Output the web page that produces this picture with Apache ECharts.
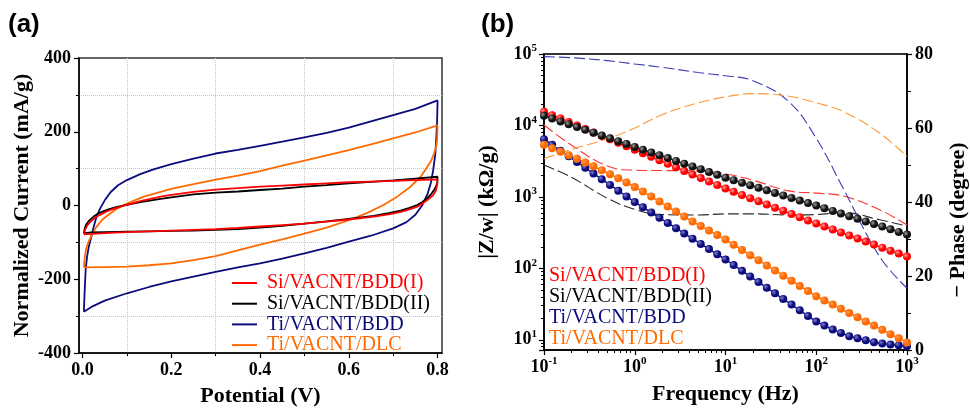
<!DOCTYPE html>
<html>
<head>
<meta charset="utf-8">
<script src="https://cdn.jsdelivr.net/npm/echarts@6/dist/echarts.min.js"></script>
<style>
  html, body { margin: 0; padding: 0; background: #fff; }
  #main { width: 970px; height: 410px; }
</style>
</head>
<body>
<div id="main"></div>
<script>
// (a) cyclic voltammograms: [potential (V), current (mA/g)], forward sweep then reverse sweep
var cvSiBddI = [
  [0.003,-78],[0.006,-65],[0.011,-53],[0.018,-44],[0.025,-36],[0.035,-28],[0.048,-20],[0.06,-13],[0.078,-6],[0.1,2],
  [0.13,12],[0.176,24],[0.2,29],[0.25,37],[0.3,43],[0.35,47],[0.4,51],[0.45,54],[0.5,57],[0.55,60],[0.6,63],
  [0.65,65],[0.7,67],[0.75,69],[0.8,71],
  [0.799,55],[0.796,40],[0.79,28],[0.777,15],[0.765,5],[0.754,-3],[0.735,-11],[0.717,-17],[0.69,-24],[0.656,-30],
  [0.6,-38],[0.55,-44],[0.5,-49],[0.45,-53],[0.4,-57],[0.35,-61],[0.3,-64],[0.25,-66],[0.2,-68],[0.15,-70],
  [0.1,-72],[0.05,-75],[0.02,-77],[0.003,-78]
];
var cvSiBddII = [
  [0.003,-75],[0.005,-62],[0.008,-52],[0.014,-42],[0.025,-30],[0.035,-22],[0.048,-15],[0.06,-10],[0.078,-4],[0.1,2],
  [0.13,9],[0.176,18],[0.2,22],[0.25,30],[0.3,35],[0.35,38],[0.4,42],[0.45,46],[0.5,51],[0.55,55],[0.6,60],
  [0.65,64],[0.7,68],[0.75,73],[0.8,78],
  [0.799,60],[0.796,50],[0.792,42],[0.785,30],[0.777,20],[0.765,9],[0.754,1],[0.735,-7],[0.717,-14],[0.69,-21],
  [0.656,-28],[0.6,-36],[0.55,-43],[0.5,-49],[0.45,-55],[0.4,-60],[0.35,-64],[0.3,-66],[0.25,-68],[0.2,-69],
  [0.15,-70],[0.1,-71],[0.05,-72],[0.02,-73],[0.003,-75]
];
var cvTiBdd = [
  [0.003,-288],[0.005,-225],[0.007,-175],[0.01,-140],[0.014,-112],[0.018,-93],[0.025,-58],[0.032,-28],[0.041,-5],
  [0.05,14],[0.063,36],[0.08,55],[0.1,69],[0.13,85],[0.16,98],[0.2,112],[0.25,127],[0.3,141],[0.35,151],[0.4,162],
  [0.45,173],[0.5,185],[0.55,197],[0.6,211],[0.65,228],[0.7,245],[0.75,262],[0.8,285],
  [0.799,230],[0.797,180],[0.795,140],[0.79,95],[0.785,62],[0.777,30],[0.765,0],[0.75,-25],[0.73,-45],
  [0.7,-62],[0.65,-82],[0.6,-98],[0.55,-115],[0.5,-130],[0.45,-144],[0.4,-157],[0.35,-168],[0.3,-180],
  [0.25,-193],[0.2,-206],[0.15,-221],[0.1,-238],[0.05,-258],[0.02,-275],[0.003,-288]
];
var cvTiDlc = [
  [0.003,-168],[0.005,-140],[0.008,-118],[0.013,-100],[0.02,-82],[0.03,-60],[0.045,-38],[0.063,-21],[0.08,-7],
  [0.1,5],[0.138,24],[0.176,37],[0.2,45],[0.25,58],[0.3,70],[0.35,81],[0.4,93],[0.45,108],[0.5,122],[0.55,136],
  [0.6,150],[0.65,166],[0.7,182],[0.75,198],[0.8,217],
  [0.799,177],[0.796,155],[0.792,141],[0.785,120],[0.777,105],[0.762,78],[0.739,51],[0.709,24],[0.679,2],
  [0.642,-20],[0.6,-40],[0.55,-60],[0.5,-76],[0.45,-92],[0.4,-106],[0.35,-122],[0.3,-137],[0.25,-148],
  [0.2,-157],[0.15,-162],[0.1,-166],[0.05,-167],[0.003,-168]
];
var potentialTicks = [0, 0.2, 0.4, 0.6, 0.8];
var potentialMinor = [0.1, 0.3, 0.5, 0.7];

// (b) impedance: frequency (Hz), |Z/w| (kOhm/g) and -phase (degree)
var freq = [
  0.1, 0.123, 0.152, 0.187, 0.231, 0.285, 0.351, 0.433, 0.534, 0.658, 0.811,
  1, 1.23, 1.52, 1.87, 2.31, 2.85, 3.51, 4.33, 5.34, 6.58, 8.11,
  10, 12.3, 15.2, 18.7, 23.1, 28.5, 35.1, 43.3, 53.4, 65.8, 81.1,
  100, 123, 152, 187, 231, 285, 351, 433, 534, 658, 811, 1000
];
var zSiBddI = [
  15600, 13900, 12500, 11200, 9980, 8930, 7990, 7140, 6400, 5720, 5120,
  4580, 4090, 3650, 3250, 2900, 2590, 2310, 2060, 1840, 1640, 1470,
  1310, 1180, 1065, 961, 867, 783, 706, 638, 575, 520, 469,
  424, 385, 349, 317, 288, 261, 237, 215, 195, 177, 161, 146
];
var zSiBddII = [
  13700, 12500, 11400, 10400, 9510, 8690, 7930, 7230, 6600, 6030, 5500,
  5010, 4580, 4190, 3830, 3500, 3190, 2920, 2670, 2440, 2230, 2040,
  1860, 1716, 1581, 1456, 1342, 1236, 1138, 1049, 966, 889, 820,
  755, 694, 637, 586, 538, 494, 454, 417, 384, 352, 324, 297
];
var zTiBdd = [
  6430, 5350, 4440, 3700, 3080, 2550, 2120, 1770, 1470, 1220, 1016,
  846, 715, 605, 510, 432, 365, 308, 260, 220, 186, 157,
  133, 111, 92.2, 77.1, 64.3, 53.5, 44.7, 37.2, 31.1, 25.9, 21.6,
  18.0, 15.8, 13.9, 12.5, 11.2, 10.5, 9.87, 9.25, 8.87, 8.59, 8.40, 8.13
];
var zTiDlc = [
  5390, 4810, 4300, 3840, 3410, 3030, 2680, 2360, 2080, 1820, 1585,
  1380, 1186, 1010, 860, 732, 623, 530, 451, 391, 338, 292,
  253, 214, 181, 153, 130, 110, 93.5, 79.1, 67.1, 56.7, 48.1,
  40.7, 35.6, 31.1, 27.1, 23.7, 20.7, 18.1, 15.8, 13.8, 12.0, 10.5, 9.2
];
var phaseFreq = [0.1, 0.2, 0.5, 1, 2, 5, 10, 20, 50, 100, 200, 500, 1000];
var phSiBddI  = [60.8, 55.4, 49.7, 48.6, 48.5, 48.4, 47.6, 45.9, 43.0, 42.4, 41.6, 37.9, 33.8];
var phSiBddII = [50.0, 46.7, 41.0, 38.0, 36.6, 36.5, 36.8, 36.8, 36.5, 36.6, 37.1, 35.2, 33.5];
var phTiBdd   = [79.3, 79.0, 78.2, 77.3, 76.4, 75.0, 74.1, 72.8, 67.1, 57.2, 43.5, 25.2, 16.7];
var phTiDlc   = [51.7, 54.2, 57.1, 60.0, 63.6, 66.8, 68.4, 69.3, 68.6, 66.8, 64.4, 58.6, 52.3];
// minor tick positions of the two log axes
var freqMinor = [0.2,0.3,0.4,0.5,0.6,0.7,0.8,0.9, 2,3,4,5,6,7,8,9, 20,30,40,50,60,70,80,90, 200,300,400,500,600,700,800,900];
var zMinor = [8,9, 20,30,40,50,60,70,80,90, 200,300,400,500,600,700,800,900,
  2000,3000,4000,5000,6000,7000,8000,9000, 20000,30000,40000,50000,60000,70000,80000,90000];

var names = ['Si/VACNT/BDD(I)', 'Si/VACNT/BDD(II)', 'Ti/VACNT/BDD', 'Ti/VACNT/DLC'];
var RED = '#ff0000', BLACK = '#000000', NAVY = '#0b0b7d', ORANGE = '#ff6a00';
var SERIF = "'Liberation Serif', 'Times New Roman', serif";
var FREQ_MIN = 0.1, FREQ_MAX = 1000, Z_MIN = 7.2, Z_MAX = 100000;

var chart = echarts.init(document.getElementById('main'));

function pairs(xs, ys) {
  return xs.map(function (x, i) { return [x, ys[i]]; });
}
function ball(base, light) {
  return {
    type: 'radial', x: 0.35, y: 0.35, r: 0.7,
    colorStops: [{ offset: 0, color: light }, { offset: 0.55, color: base }, { offset: 1, color: base }]
  };
}
function logLabel(v) {
  var l = Math.log10(v);
  var e = Math.round(l);
  if (Math.abs(l - e) > 1e-6) return '';
  return '{b|10}{s|' + e + '}';
}
var tickLabelStyle = { color: '#000', fontFamily: SERIF, fontWeight: 'bold', fontSize: 18 };
var richPow = {
  b: { fontFamily: SERIF, fontWeight: 'bold', fontSize: 18, color: '#000', lineHeight: 22 },
  s: { fontFamily: SERIF, fontWeight: 'bold', fontSize: 11, color: '#000', lineHeight: 12, verticalAlign: 'top' }
};
var nameStyle = { color: '#000', fontFamily: SERIF, fontWeight: 'bold', fontSize: 22 };
var axisLineStyle = { show: true, onZero: false, lineStyle: { color: '#000', width: 1.5 } };

function cvSeries(name, data, color) {
  return {
    name: name, type: 'line', xAxisIndex: 0, yAxisIndex: 0, data: data,
    symbol: 'none', showSymbol: false, smooth: false,
    lineStyle: { color: color, width: 1.8 }, itemStyle: { color: color }
  };
}
function phaseSeries(name, vals, color) {
  return {
    name: name, type: 'line', xAxisIndex: 2, yAxisIndex: 2, data: pairs(phaseFreq, vals),
    symbol: 'none', showSymbol: false, smooth: 0.4,
    lineStyle: { color: color, width: 1.1, type: [11, 4] }, itemStyle: { color: color }
  };
}
function zSeries(name, vals, color, light) {
  return {
    name: name, type: 'line', xAxisIndex: 2, yAxisIndex: 1, data: pairs(freq, vals),
    symbol: 'circle', symbolSize: 8, showSymbol: true,
    lineStyle: { color: color, width: 1.5 }, itemStyle: { color: ball(color, light) }
  };
}
// a bare axis carrying only short minor ticks, laid over a log axis in log10 units
function minorLogAxis(gridIndex, position, lo, hi, ticks) {
  return {
    gridIndex: gridIndex, type: 'value', position: position,
    min: Math.log10(lo), max: Math.log10(hi),
    axisLine: { show: false, onZero: false }, axisLabel: { show: false }, splitLine: { show: false },
    axisTick: { show: true, length: 3, customValues: ticks.map(Math.log10), lineStyle: { color: '#000', width: 1 } }
  };
}

var option = {
  animation: false,
  backgroundColor: '#fff',
  graphic: [
    { type: 'text', left: 8, top: 12, style: { text: '(a)', fill: '#000', font: "bold 26px 'Liberation Sans', Arial, sans-serif" } },
    { type: 'text', left: 481, top: 12, style: { text: '(b)', fill: '#000', font: "bold 26px 'Liberation Sans', Arial, sans-serif" } }
  ],
  grid: [
    { left: 79, top: 58, width: 363, height: 295, show: true, borderColor: '#333', borderWidth: 1.5, outerBoundsMode: 'none' },
    { left: 544, top: 54, width: 363, height: 296, show: true, borderColor: '#333', borderWidth: 2, outerBoundsMode: 'none' }
  ],
  legend: [
    {
      orient: 'vertical', left: 227, top: 268, icon: 'rect', itemWidth: 25, itemHeight: 2, itemGap: 0.7, selectedMode: false,
      textStyle: { fontFamily: SERIF, fontSize: 20, lineHeight: 20, padding: [0, 0, 0, 5] },
      data: [
        { name: names[0], textStyle: { color: RED } },
        { name: names[1], textStyle: { color: BLACK } },
        { name: names[2], textStyle: { color: NAVY } },
        { name: names[3], textStyle: { color: ORANGE } }
      ]
    },
    {
      orient: 'vertical', left: 538, top: 261, itemWidth: 0, itemHeight: 0, itemGap: 1, selectedMode: false,
      textStyle: { fontFamily: SERIF, fontSize: 20, lineHeight: 20 },
      data: [
        { name: names[0], textStyle: { color: RED } },
        { name: names[1], textStyle: { color: BLACK } },
        { name: names[2], textStyle: { color: NAVY } },
        { name: names[3], textStyle: { color: ORANGE } }
      ]
    }
  ],
  xAxis: [
    {
      gridIndex: 0, type: 'value', min: -0.008, max: 0.81, position: 'bottom',
      axisLine: axisLineStyle,
      axisTick: { show: true, length: 5, customValues: potentialTicks, lineStyle: { color: '#000', width: 1.2 } },
      axisLabel: Object.assign({ customValues: potentialTicks, margin: 8, formatter: function (v) { return v.toFixed(1); } }, tickLabelStyle),
      splitLine: { show: false },
      name: 'Potential (V)', nameLocation: 'middle', nameGap: 32, nameMoveOverlap: false, nameTextStyle: nameStyle
    },
    {
      gridIndex: 0, type: 'value', min: -0.008, max: 0.81, position: 'bottom',
      axisLine: { show: false, onZero: false }, axisLabel: { show: false },
      axisTick: { show: true, length: 3, customValues: potentialMinor, lineStyle: { color: '#000', width: 1 } },
      splitLine: { show: true, lineStyle: { color: '#c4c4c4', type: 'dotted', width: 1 } }
    },
    {
      gridIndex: 1, type: 'log', logBase: 10, min: FREQ_MIN, max: FREQ_MAX, position: 'bottom',
      axisLine: axisLineStyle,
      axisTick: { show: true, length: 5, lineStyle: { color: '#000', width: 1.2 } },
      axisLabel: { formatter: logLabel, rich: richPow, margin: 6 },
      splitLine: { show: false }, minorTick: { show: false },
      name: 'Frequency (Hz)', nameLocation: 'middle', nameGap: 33, nameMoveOverlap: false, nameTextStyle: nameStyle
    },
    minorLogAxis(1, 'bottom', FREQ_MIN, FREQ_MAX, freqMinor)
  ],
  yAxis: [
    {
      gridIndex: 0, type: 'value', min: -400, max: 400, interval: 200, position: 'left',
      axisLine: axisLineStyle,
      axisTick: { show: true, length: 5, lineStyle: { color: '#000', width: 1.2 } },
      minorTick: { show: true, splitNumber: 2, length: 3, lineStyle: { color: '#000', width: 1 } },
      minorSplitLine: { show: true, lineStyle: { color: '#c4c4c4', type: 'dotted', width: 1 } },
      splitLine: { show: false },
      axisLabel: Object.assign({ margin: 8 }, tickLabelStyle),
      name: 'Normalized Current (mA/g)', nameLocation: 'middle', nameGap: 46, nameMoveOverlap: false, nameTextStyle: nameStyle
    },
    {
      gridIndex: 1, type: 'log', logBase: 10, min: Z_MIN, max: Z_MAX, position: 'left',
      axisLine: axisLineStyle,
      axisTick: { show: true, length: 5, lineStyle: { color: '#000', width: 1.2 } },
      axisLabel: { formatter: logLabel, rich: richPow, margin: 7 },
      splitLine: { show: false }, minorTick: { show: false },
      name: '|Z/w| (k\u03A9/g)', nameLocation: 'middle', nameGap: 46, nameMoveOverlap: false, nameTextStyle: nameStyle
    },
    {
      gridIndex: 1, type: 'value', min: 0, max: 80, interval: 20, position: 'right',
      axisLine: axisLineStyle,
      axisTick: { show: true, length: 5, lineStyle: { color: '#000', width: 1.2 } },
      minorTick: { show: true, splitNumber: 2, length: 4, lineStyle: { color: '#000', width: 1 } },
      splitLine: { show: false },
      axisLabel: Object.assign({ margin: 8 }, tickLabelStyle),
      name: '\u2212 Phase (degree)', nameLocation: 'middle', nameGap: 40, nameRotate: 90, nameMoveOverlap: false,
      nameTextStyle: Object.assign({ padding: [0, 36, 0, 0] }, nameStyle)
    },
    minorLogAxis(1, 'left', Z_MIN, Z_MAX, zMinor)
  ],
  series: [
    cvSeries(names[2], cvTiBdd, NAVY),
    cvSeries(names[3], cvTiDlc, ORANGE),
    cvSeries(names[1], cvSiBddII, BLACK),
    cvSeries(names[0], cvSiBddI, RED),
    phaseSeries(names[0], phSiBddI, '#ff3333'),
    phaseSeries(names[1], phSiBddII, '#2a2a2a'),
    phaseSeries(names[2], phTiBdd, '#3d3db3'),
    phaseSeries(names[3], phTiDlc, '#ff9a3a'),
    zSeries(names[0], zSiBddI, RED, '#ff9c9c'),
    zSeries(names[1], zSiBddII, '#111111', '#9a9a9a'),
    zSeries(names[2], zTiBdd, NAVY, '#7d7dd0'),
    zSeries(names[3], zTiDlc, ORANGE, '#ff9a55')
  ]
};
chart.setOption(option);
</script>
</body>
</html>
